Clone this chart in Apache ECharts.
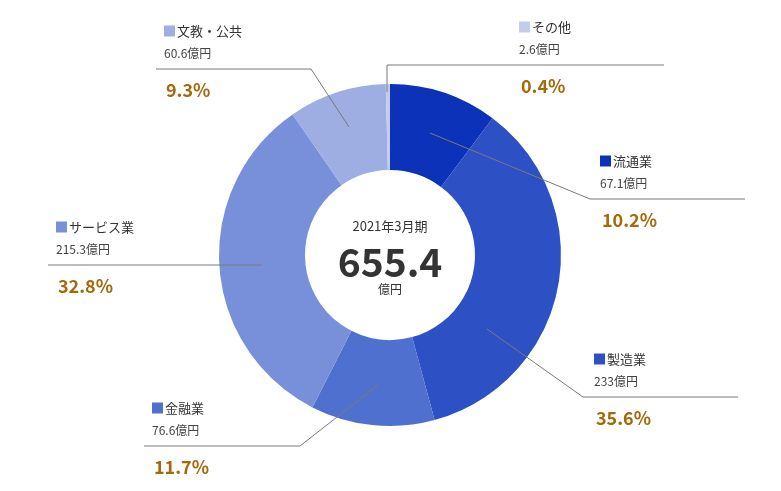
<!DOCTYPE html>
<html><head><meta charset="utf-8">
<script src="https://cdn.jsdelivr.net/npm/echarts@6/dist/echarts.min.js"></script>
<style>html,body{margin:0;padding:0;background:#fff}#c{width:781px;height:491px}</style>
</head><body><div id="c"></div>
<script>
const categories = ['流通業', '製造業', '金融業', 'サービス業', '文教・公共', 'その他'];
const values = [67.1, 233, 76.6, 215.3, 60.6, 2.6];
const valueLabels = ['67.1億円', '233億円', '76.6億円', '215.3億円', '60.6億円', '2.6億円'];
const percentLabels = ['10.2%', '35.6%', '11.7%', '32.8%', '9.3%', '0.4%'];
const periodLabel = '2021年3月期';
const totalLabel = '655.4';
const unitLabel = '億円';

const colors = ['#0b32b8', '#2d50c5', '#5070cf', '#7890da', '#9eade2', '#c2ccee'];
const FONT = '"Noto Sans CJK JP", "Noto Sans", sans-serif';

// label layout (positions only)
const labelLayoutCfg = [
  { x: 600, lineY: 199, line: [[430, 133], [590, 199], [745, 199]] },
  { x: 594, lineY: 397, line: [[487, 329], [583, 397], [738, 397]] },
  { x: 152, lineY: 446, line: [[378, 385], [300, 446], [144, 446]] },
  { x: 56, lineY: 265, line: [[262, 265], [155, 265], [48, 265]] },
  { x: 164, lineY: 69, line: [[349, 127], [311, 69], [156, 69]] },
  { x: 519, lineY: 65, line: [[387, 92], [387, 65], [664, 65]] }
];

const rich = {
  name: { fontFamily: FONT, fontSize: 13, color: '#333', lineHeight: 22, padding: [0, 0, 0, 2] },
  val: { fontFamily: FONT, fontSize: 12, color: '#444', lineHeight: 22 },
  pct: { fontFamily: FONT, fontSize: 18, fontWeight: 'bold', color: '#a5690a', lineHeight: 52, padding: [0, 0, 0, 2] }
};
colors.forEach((c, i) => { rich['sq' + i] = { width: 11, height: 11, backgroundColor: c }; });

const leaderLines = labelLayoutCfg.map(c => ({
  type: 'polyline', z: 100, silent: true,
  shape: { points: c.line },
  style: { stroke: '#7a7a7a', lineWidth: 1, fill: null }
}));

const chart = echarts.init(document.getElementById('c'), null, { renderer: 'canvas' });
chart.setOption({
  animation: false,
  color: colors,
  graphic: [
    { type: 'text', style: { text: periodLabel, x: 390, y: 226, align: 'center', verticalAlign: 'middle', font: '13px ' + FONT, fill: '#333' } },
    { type: 'text', style: { text: totalLabel, x: 390, y: 262, align: 'center', verticalAlign: 'middle', font: 'bold 39px ' + FONT, fill: '#333' } },
    { type: 'text', style: { text: unitLabel, x: 390, y: 289, align: 'center', verticalAlign: 'middle', font: '12px ' + FONT, fill: '#333' } }
  ].concat(leaderLines),
  series: [{
    type: 'pie',
    center: [390, 255],
    radius: [85, 171],
    startAngle: 90,
    clockwise: true,
    avoidLabelOverlap: false,
    itemStyle: { borderWidth: 0 },
    emphasis: { disabled: true },
    data: categories.map((n, i) => ({ name: n, value: values[i] })),
    label: {
      show: true,
      position: 'outside',
      formatter: p => '{sq' + p.dataIndex + '|}{name|' + p.name + '}\n{val|' + valueLabels[p.dataIndex] + '}\n{pct|' + percentLabels[p.dataIndex] + '}',
      rich: rich
    },
    labelLine: { show: false },
    labelLayout: function (params) {
      const c = labelLayoutCfg[params.dataIndex];
      return { x: c.x, y: c.lineY - 49, align: 'left', verticalAlign: 'top' };
    }
  }]
});
</script></body></html>
